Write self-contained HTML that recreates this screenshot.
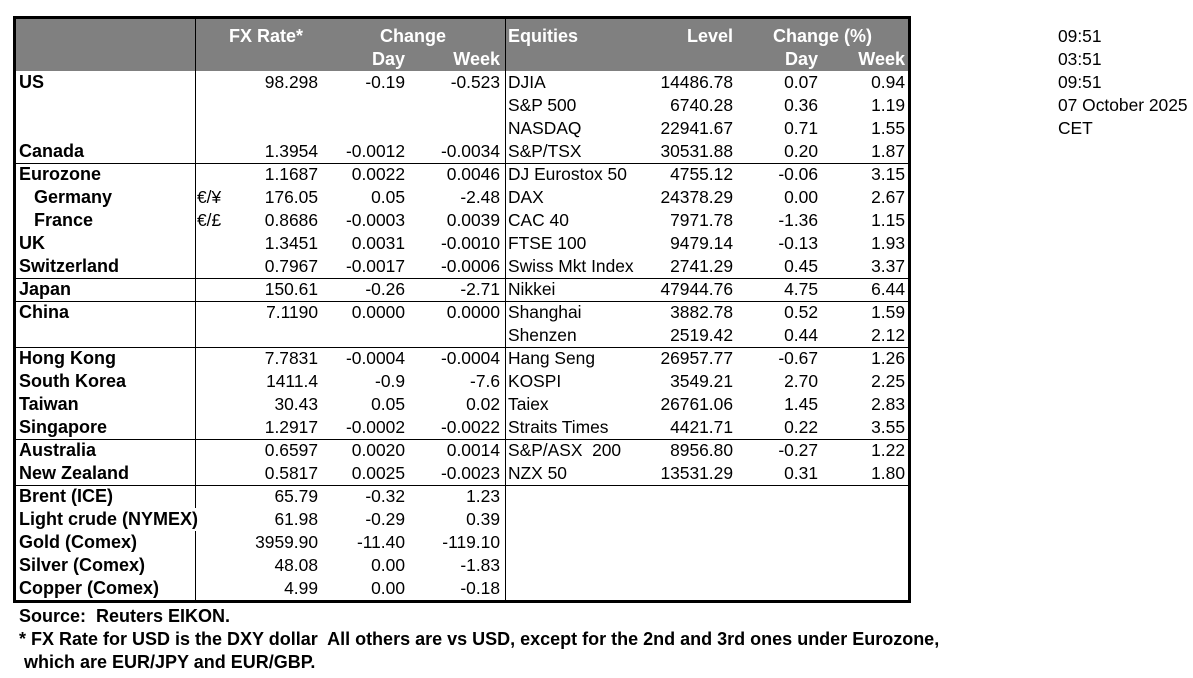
<!DOCTYPE html>
<html><head><meta charset="utf-8"><style>
body{margin:0;width:1193px;height:678px;background:#fff;font-family:"Liberation Sans",Arial,sans-serif;font-size:17.4px;color:#000;position:relative;overflow:hidden}
.a{position:absolute;white-space:nowrap;line-height:23px}
.b{font-weight:bold;font-size:18px}
.r{position:absolute;height:23px;left:0;width:910px}
.r span{position:absolute;line-height:23px;white-space:nowrap}
.l{left:19px;font-weight:bold;font-size:18px}
.i{left:34px;font-weight:bold;font-size:18px}
.c1{right:592px}.c2{right:505px}.c3{right:410px}
.e{left:508px}.c4{right:177px}.c5{right:92px}.c6{right:5px}
.h{position:absolute;background:#808080;left:16px;top:19px;width:892px;height:52px}
.hw{color:#fff;font-weight:bold;font-size:18px}
.ln{position:absolute;background:#000}
</style></head><body>
<div class="h"></div>
<div class="ln" style="left:13px;top:16px;width:898px;height:3px"></div>
<div class="ln" style="left:13px;top:600px;width:898px;height:3px"></div>
<div class="ln" style="left:13px;top:16px;width:3px;height:587px"></div>
<div class="ln" style="left:908px;top:16px;width:3px;height:587px"></div>
<div class="ln" style="left:195px;top:19px;width:1px;height:581px"></div>
<div class="ln" style="left:505px;top:19px;width:1px;height:581px"></div>
<div class="ln" style="left:16px;top:163px;width:892px;height:1px"></div>
<div class="ln" style="left:16px;top:278px;width:892px;height:1px"></div>
<div class="ln" style="left:16px;top:301px;width:892px;height:1px"></div>
<div class="ln" style="left:16px;top:347px;width:892px;height:1px"></div>
<div class="ln" style="left:16px;top:439px;width:892px;height:1px"></div>
<div class="ln" style="left:16px;top:485px;width:892px;height:1px"></div>

<div class="r" style="top:25px"><span class="hw" style="left:229px">FX Rate*</span><span class="hw" style="left:380px">Change</span><span class="hw e">Equities</span><span class="hw c4">Level</span><span class="hw" style="left:773px">Change (%)</span></div>
<div class="r" style="top:48px"><span class="hw c2">Day</span><span class="hw c3">Week</span><span class="hw c5">Day</span><span class="hw c6">Week</span></div>

<div class="r" style="top:71px"><span class="l">US</span><span class="c1">98.298</span><span class="c2">-0.19</span><span class="c3">-0.523</span><span class="e">DJIA</span><span class="c4">14486.78</span><span class="c5">0.07</span><span class="c6">0.94</span></div>
<div class="r" style="top:94px"><span class="e">S&amp;P 500</span><span class="c4">6740.28</span><span class="c5">0.36</span><span class="c6">1.19</span></div>
<div class="r" style="top:117px"><span class="e">NASDAQ</span><span class="c4">22941.67</span><span class="c5">0.71</span><span class="c6">1.55</span></div>
<div class="r" style="top:140px"><span class="l">Canada</span><span class="c1">1.3954</span><span class="c2">-0.0012</span><span class="c3">-0.0034</span><span class="e">S&amp;P/TSX</span><span class="c4">30531.88</span><span class="c5">0.20</span><span class="c6">1.87</span></div>
<div class="r" style="top:163px"><span class="l">Eurozone</span><span class="c1">1.1687</span><span class="c2">0.0022</span><span class="c3">0.0046</span><span class="e">DJ Eurostox 50</span><span class="c4">4755.12</span><span class="c5">-0.06</span><span class="c6">3.15</span></div>
<div class="r" style="top:186px"><span class="i">Germany</span><span style="left:197px">€/¥</span><span class="c1">176.05</span><span class="c2">0.05</span><span class="c3">-2.48</span><span class="e">DAX</span><span class="c4">24378.29</span><span class="c5">0.00</span><span class="c6">2.67</span></div>
<div class="r" style="top:209px"><span class="i">France</span><span style="left:197px">€/£</span><span class="c1">0.8686</span><span class="c2">-0.0003</span><span class="c3">0.0039</span><span class="e">CAC 40</span><span class="c4">7971.78</span><span class="c5">-1.36</span><span class="c6">1.15</span></div>
<div class="r" style="top:232px"><span class="l">UK</span><span class="c1">1.3451</span><span class="c2">0.0031</span><span class="c3">-0.0010</span><span class="e">FTSE 100</span><span class="c4">9479.14</span><span class="c5">-0.13</span><span class="c6">1.93</span></div>
<div class="r" style="top:255px"><span class="l">Switzerland</span><span class="c1">0.7967</span><span class="c2">-0.0017</span><span class="c3">-0.0006</span><span class="e">Swiss Mkt Index</span><span class="c4">2741.29</span><span class="c5">0.45</span><span class="c6">3.37</span></div>
<div class="r" style="top:278px"><span class="l">Japan</span><span class="c1">150.61</span><span class="c2">-0.26</span><span class="c3">-2.71</span><span class="e">Nikkei</span><span class="c4">47944.76</span><span class="c5">4.75</span><span class="c6">6.44</span></div>
<div class="r" style="top:301px"><span class="l">China</span><span class="c1">7.1190</span><span class="c2">0.0000</span><span class="c3">0.0000</span><span class="e">Shanghai</span><span class="c4">3882.78</span><span class="c5">0.52</span><span class="c6">1.59</span></div>
<div class="r" style="top:324px"><span class="e">Shenzen</span><span class="c4">2519.42</span><span class="c5">0.44</span><span class="c6">2.12</span></div>
<div class="r" style="top:347px"><span class="l">Hong Kong</span><span class="c1">7.7831</span><span class="c2">-0.0004</span><span class="c3">-0.0004</span><span class="e">Hang Seng</span><span class="c4">26957.77</span><span class="c5">-0.67</span><span class="c6">1.26</span></div>
<div class="r" style="top:370px"><span class="l">South Korea</span><span class="c1">1411.4</span><span class="c2">-0.9</span><span class="c3">-7.6</span><span class="e">KOSPI</span><span class="c4">3549.21</span><span class="c5">2.70</span><span class="c6">2.25</span></div>
<div class="r" style="top:393px"><span class="l">Taiwan</span><span class="c1">30.43</span><span class="c2">0.05</span><span class="c3">0.02</span><span class="e">Taiex</span><span class="c4">26761.06</span><span class="c5">1.45</span><span class="c6">2.83</span></div>
<div class="r" style="top:416px"><span class="l">Singapore</span><span class="c1">1.2917</span><span class="c2">-0.0002</span><span class="c3">-0.0022</span><span class="e">Straits Times</span><span class="c4">4421.71</span><span class="c5">0.22</span><span class="c6">3.55</span></div>
<div class="r" style="top:439px"><span class="l">Australia</span><span class="c1">0.6597</span><span class="c2">0.0020</span><span class="c3">0.0014</span><span class="e">S&amp;P/ASX&nbsp; 200</span><span class="c4">8956.80</span><span class="c5">-0.27</span><span class="c6">1.22</span></div>
<div class="r" style="top:462px"><span class="l">New Zealand</span><span class="c1">0.5817</span><span class="c2">0.0025</span><span class="c3">-0.0023</span><span class="e">NZX 50</span><span class="c4">13531.29</span><span class="c5">0.31</span><span class="c6">1.80</span></div>
<div class="r" style="top:485px"><span class="l">Brent (ICE)</span><span class="c1">65.79</span><span class="c2">-0.32</span><span class="c3">1.23</span></div>
<div class="r" style="top:508px"><span class="l" style="background:#fff">Light crude (NYMEX)</span><span class="c1">61.98</span><span class="c2">-0.29</span><span class="c3">0.39</span></div>
<div class="r" style="top:531px"><span class="l">Gold (Comex)</span><span class="c1">3959.90</span><span class="c2">-11.40</span><span class="c3">-119.10</span></div>
<div class="r" style="top:554px"><span class="l">Silver (Comex)</span><span class="c1">48.08</span><span class="c2">0.00</span><span class="c3">-1.83</span></div>
<div class="r" style="top:577px"><span class="l">Copper (Comex)</span><span class="c1">4.99</span><span class="c2">0.00</span><span class="c3">-0.18</span></div>

<div class="a b" style="left:19px;top:605px">Source:&nbsp; Reuters EIKON.</div>
<div class="a b" style="left:19px;top:628px">* FX Rate for USD is the DXY dollar&nbsp; All others are vs USD, except for the 2nd and 3rd ones under Eurozone,</div>
<div class="a b" style="left:19px;top:651px">&nbsp;which are EUR/JPY and EUR/GBP.</div>

<div class="a" style="left:1058px;top:25px">09:51</div>
<div class="a" style="left:1058px;top:48px">03:51</div>
<div class="a" style="left:1058px;top:71px">09:51</div>
<div class="a" style="left:1058px;top:94px">07 October 2025</div>
<div class="a" style="left:1058px;top:117px">CET</div>
</body></html>
